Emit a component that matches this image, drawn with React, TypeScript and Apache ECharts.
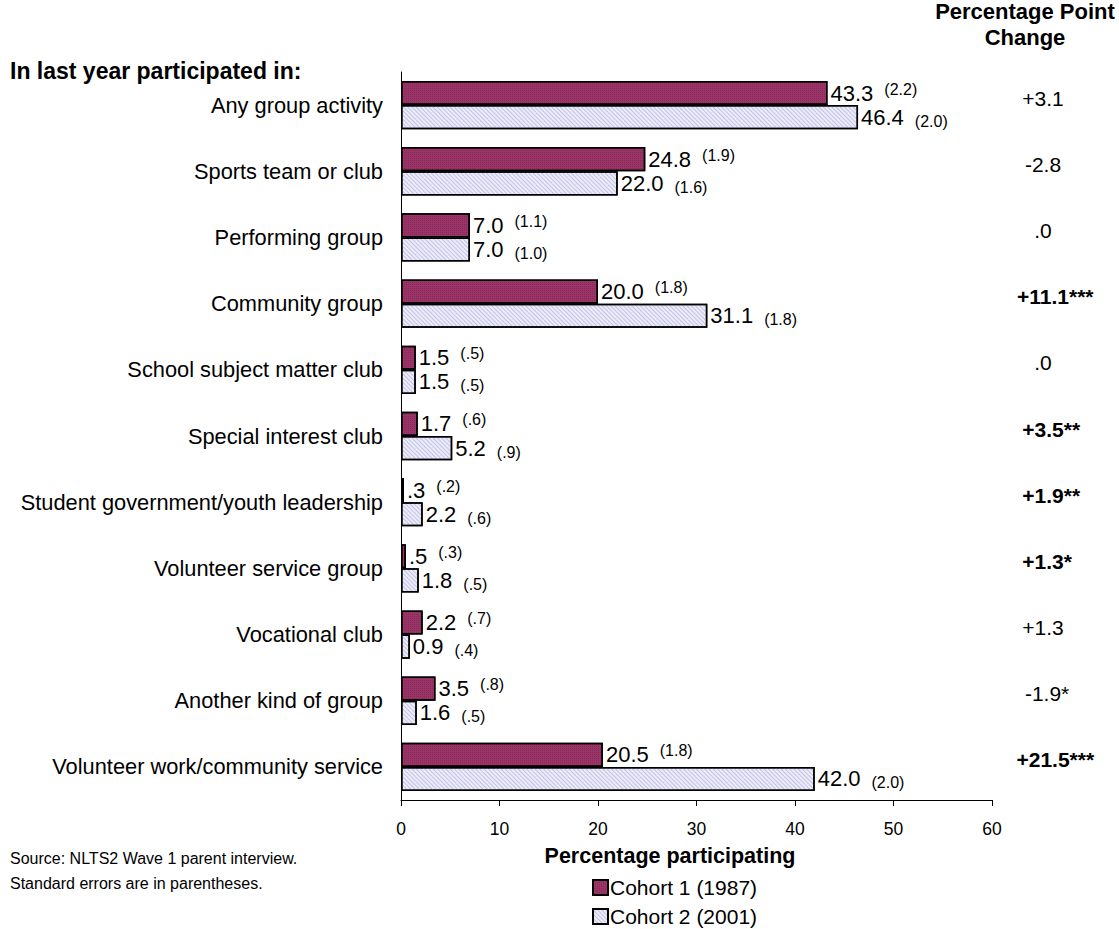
import React, { useEffect, useRef } from "react";
import * as echarts from "echarts";

const categories = [
  "Any group activity",
  "Sports team or club",
  "Performing group",
  "Community group",
  "School subject matter club",
  "Special interest club",
  "Student government/youth leadership",
  "Volunteer service group",
  "Vocational club",
  "Another kind of group",
  "Volunteer work/community service",
];
const cohort1 = [43.3, 24.8, 7.0, 20.0, 1.5, 1.7, 0.3, 0.5, 2.2, 3.5, 20.5];
const cohort2 = [46.4, 22.0, 7.0, 31.1, 1.5, 5.2, 2.2, 1.8, 0.9, 1.6, 42.0];
const cohort1Labels = ["43.3", "24.8", "7.0", "20.0", "1.5", "1.7", ".3", ".5", "2.2", "3.5", "20.5"];
const cohort2Labels = ["46.4", "22.0", "7.0", "31.1", "1.5", "5.2", "2.2", "1.8", "0.9", "1.6", "42.0"];
const cohort1SE = ["(2.2)", "(1.9)", "(1.1)", "(1.8)", "(.5)", "(.6)", "(.2)", "(.3)", "(.7)", "(.8)", "(1.8)"];
const cohort2SE = ["(2.0)", "(1.6)", "(1.0)", "(1.8)", "(.5)", "(.9)", "(.6)", "(.5)", "(.4)", "(.5)", "(2.0)"];
const changeValues = ["+3.1", "-2.8", ".0", "+11.1", ".0", "+3.5", "+1.9", "+1.3", "+1.3", "-1.9", "+21.5"];
const changeStars = ["", "", "", "***", "", "**", "**", "*", "", "*", "***"];
const changeBold = [false, false, false, true, false, true, true, true, false, false, true];
const xTicks = { min: 0, max: 60, interval: 10 };

const FONT = "'Liberation Sans', Arial, sans-serif";

export default function App() {
  const ref = useRef<HTMLDivElement>(null);
  useEffect(() => {
    if (!ref.current) return;
    const chart = echarts.init(ref.current, undefined, { renderer: "svg" });
    const rich = {
      v: { fontSize: 22, lineHeight: 24, color: "#000", fontFamily: FONT },
      up: { fontSize: 16, lineHeight: 15, color: "#000", fontFamily: FONT, verticalAlign: "top", padding: [0, 0, 0, 11] },
      down: { fontSize: 16, lineHeight: 17, color: "#000", fontFamily: FONT, verticalAlign: "bottom", padding: [0, 0, 0, 11] },
    };
    const starW = 8.2;
    chart.setOption({
      animation: false,
      aria: { enabled: false, decal: { show: true } },
      textStyle: { fontFamily: FONT },
      grid: { left: 401, right: 127, top: 72, bottom: 129, containLabel: false },
      legend: {
        orient: "vertical",
        left: 587,
        top: 872,
        height: 80,
        itemWidth: 15,
        itemHeight: 15,
        itemGap: 8,
        icon: "rect",
        textStyle: { fontSize: 21, color: "#000", fontFamily: FONT, padding: [0, 0, 0, -3] },
        data: ["Cohort 1 (1987)", "Cohort 2 (2001)"],
      },
      xAxis: {
        type: "value",
        min: xTicks.min,
        max: xTicks.max,
        interval: xTicks.interval,
        axisLine: { show: true, lineStyle: { color: "#000", width: 1 } },
        axisTick: { show: true, length: 6, lineStyle: { color: "#000" } },
        axisLabel: { fontSize: 17.5, color: "#000", margin: 20, fontFamily: FONT },
        splitLine: { show: false },
      },
      yAxis: [
        {
          type: "category",
          data: categories,
          inverse: true,
          axisLine: { show: true, lineStyle: { color: "#000", width: 1 } },
          axisTick: { show: false },
          axisLabel: { fontSize: 21.8, color: "#000", margin: 18, fontFamily: FONT },
        },
        {
          type: "category",
          data: categories,
          inverse: true,
          position: "right",
          axisLine: { show: false },
          axisTick: { show: false },
          axisLabel: {
            margin: 51,
            align: "center",
            padding: [0, 0, 14, 0],
            formatter: (_: string, i: number) => {
              const b = changeBold[i];
              const s = changeStars[i];
              const pad = s ? `{p${s.length}|}` : "";
              return pad + `{${b ? "nb" : "n"}|${changeValues[i]}}` + (s ? `{${b ? "sb" : "s"}|${s}}` : "");
            },
            rich: {
              n: { fontSize: 21, color: "#000", fontFamily: FONT },
              nb: { fontSize: 21, color: "#000", fontWeight: "bold", fontFamily: FONT },
              s: { fontSize: 21, color: "#000", fontFamily: FONT },
              sb: { fontSize: 21, color: "#000", fontWeight: "bold", fontFamily: FONT },
              p1: { width: starW },
              p2: { width: starW * 2 },
              p3: { width: starW * 3 },
            },
          },
        },
      ],
      series: [
        {
          name: "Cohort 1 (1987)",
          type: "bar",
          data: cohort1,
          barGap: "0%",
          barCategoryGap: "27%",
          itemStyle: {
            color: "#9b3467",
            borderColor: "#000",
            borderWidth: 1.5,
            decal: {
              symbol: "rect",
              symbolSize: 1,
              dashArrayX: [1, 1],
              dashArrayY: [1, 1],
              color: "rgba(70,10,40,0.25)",
            },
          },
          label: {
            show: true,
            position: "right",
            distance: 3,
            formatter: (p: any) => `{v|${cohort1Labels[p.dataIndex]}}{up|${cohort1SE[p.dataIndex]}}`,
            rich,
          },
        },
        {
          name: "Cohort 2 (2001)",
          type: "bar",
          data: cohort2,
          itemStyle: {
            color: "#ececf9",
            borderColor: "#000",
            borderWidth: 1.5,
            decal: {
              symbol: "rect",
              symbolSize: 1,
              dashArrayX: [1, 0],
              dashArrayY: [1, 2],
              rotation: Math.PI / 4,
              color: "rgba(160,160,215,0.55)",
            },
          },
          label: {
            show: true,
            position: "right",
            distance: 3,
            formatter: (p: any) => `{v|${cohort2Labels[p.dataIndex]}}{down|${cohort2SE[p.dataIndex]}}`,
            rich,
          },
        },
      ],
      graphic: [
        {
          type: "text",
          left: 10,
          top: 59,
          style: { text: "In last year participated in:", font: `bold 23px ${FONT}`, fill: "#000" },
        },
        {
          type: "text",
          x: 1025,
          y: -2,
          style: {
            text: "Percentage Point\nChange",
            font: `bold 22px ${FONT}`,
            fill: "#000",
            align: "center",
            lineHeight: 26,
          },
        },
        {
          type: "text",
          x: 670,
          y: 845,
          style: { text: "Percentage participating", font: `bold 21.5px ${FONT}`, fill: "#000", align: "center" },
        },
        {
          type: "text",
          left: 10,
          top: 846,
          style: {
            text: "Source: NLTS2 Wave 1 parent interview.\nStandard errors are in parentheses.",
            font: `16px ${FONT}`,
            fill: "#000",
            lineHeight: 25,
          },
        },
      ],
    });
    return () => chart.dispose();
  }, []);
  return (
    <div
      ref={ref}
      style={{ position: "fixed", left: 0, top: 0, width: 1119, height: 929, background: "#fff" }}
    />
  );
}
